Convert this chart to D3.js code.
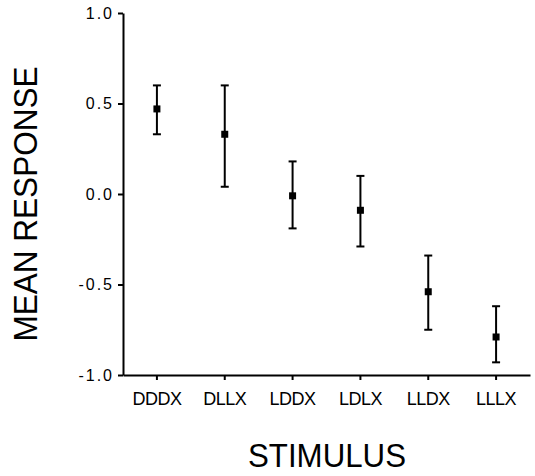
<!DOCTYPE html>
<html>
<head>
<meta charset="utf-8">
<script src="https://cdn.jsdelivr.net/npm/d3@7"></script>
<style>
  body { margin: 0; background: #fff; }
  svg { display: block; font-family: "Liberation Sans", Arial, sans-serif; }
</style>
</head>
<body>
<svg width="535" height="476"></svg>
<script>
// values
var stimuli = ["DDDX", "DLLX", "LDDX", "LDLX", "LLDX", "LLLX"];
var means = [0.47, 0.33, -0.01, -0.09, -0.54, -0.79];
var upper = [0.60, 0.60, 0.18, 0.10, -0.34, -0.62];
var lower = [0.33, 0.04, -0.19, -0.29, -0.75, -0.93];
var yTicks = [-1, -0.5, 0, 0.5, 1];

var svg = d3.select("svg");

var x = d3.scaleBand()
    .domain(stimuli)
    .range([123, 530]);

var y = d3.scaleLinear()
    .domain([-1, 1])
    .range([375, 13]);

// axes
var xAxis = svg.append("g")
    .attr("transform", "translate(0,375)")
    .call(d3.axisBottom(x).tickSize(5).tickSizeOuter(0).tickPadding(12));

var yAxis = svg.append("g")
    .attr("transform", "translate(123,0)")
    .call(d3.axisLeft(y)
        .tickValues(yTicks)
        .tickFormat(function(d) { return d.toFixed(1); })
        .tickSize(5)
        .tickSizeOuter(0)
        .tickPadding(4));

svg.selectAll(".domain, .tick line")
    .attr("stroke", "#000")
    .attr("stroke-width", 2);

xAxis.selectAll("text")
    .attr("font-size", 18)
    .attr("letter-spacing", -0.5)
    .attr("fill", "#000");

yAxis.selectAll("text")
    .attr("font-size", 16)
    .attr("letter-spacing", 2)
    .attr("fill", "#000");

// error bars
var rows = stimuli.map(function(s, i) {
    return {name: s, mean: means[i], hi: upper[i], lo: lower[i]};
});

var bars = svg.append("g")
    .selectAll("g")
    .data(rows)
    .enter().append("g")
    .attr("transform", function(d) { return "translate(" + (x(d.name) + x.bandwidth() / 2) + ",0)"; });

bars.append("line")
    .attr("y1", function(d) { return y(d.hi); })
    .attr("y2", function(d) { return y(d.lo); })
    .attr("stroke", "#000")
    .attr("stroke-width", 2);

bars.selectAll(".cap")
    .data(function(d) { return [d.hi, d.lo]; })
    .enter().append("line")
    .attr("class", "cap")
    .attr("x1", -4)
    .attr("x2", 4)
    .attr("y1", function(v) { return y(v); })
    .attr("y2", function(v) { return y(v); })
    .attr("stroke", "#000")
    .attr("stroke-width", 2);

bars.append("rect")
    .attr("x", -3.5)
    .attr("y", function(d) { return y(d.mean) - 3.5; })
    .attr("width", 7)
    .attr("height", 7)
    .attr("fill", "#000");

// titles
svg.append("text")
    .attr("transform", "translate(37,204) rotate(-90)")
    .attr("text-anchor", "middle")
    .attr("font-size", 33)
    .attr("textLength", 275)
    .attr("lengthAdjust", "spacingAndGlyphs")
    .text("MEAN RESPONSE");

svg.append("text")
    .attr("x", 327)
    .attr("y", 467)
    .attr("text-anchor", "middle")
    .attr("font-size", 34)
    .attr("textLength", 158)
    .attr("lengthAdjust", "spacingAndGlyphs")
    .text("STIMULUS");
</script>
</body>
</html>
